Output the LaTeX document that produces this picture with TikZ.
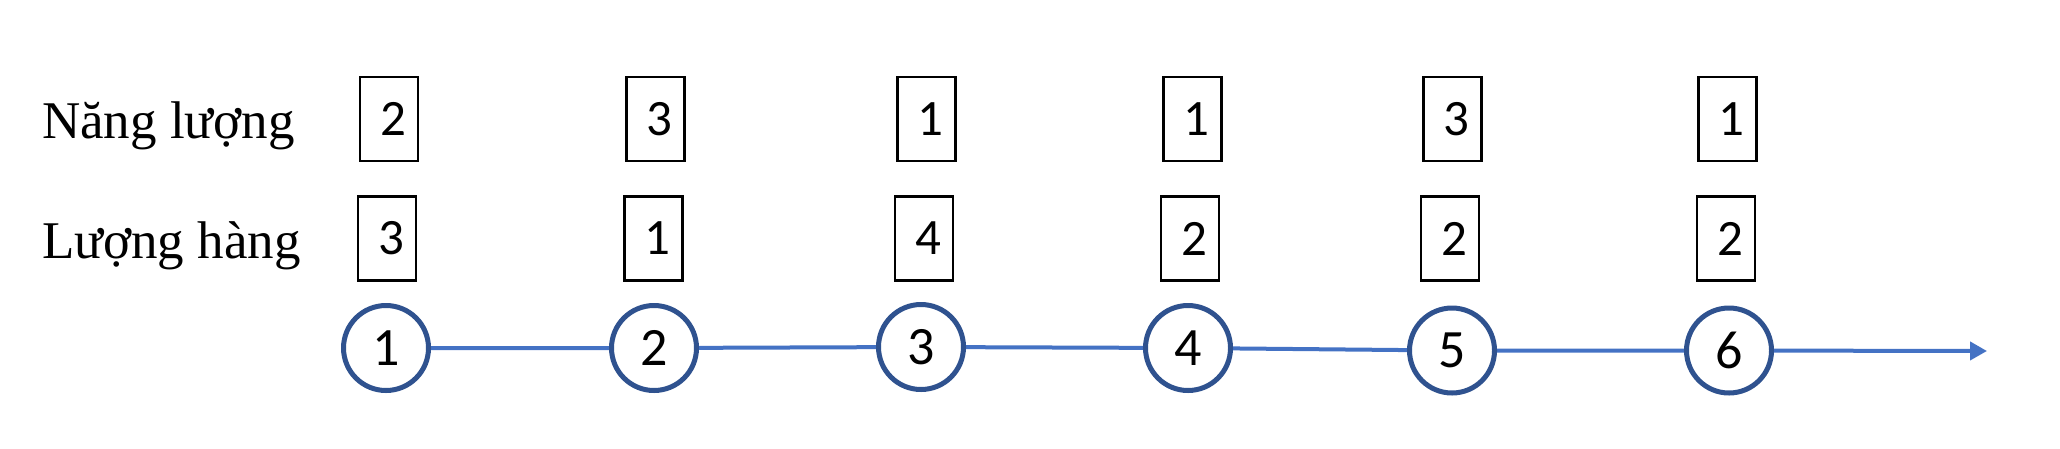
\documentclass[tikz,border=0pt]{standalone}
\usepackage{fontspec}
\setmainfont{Liberation Serif}
\newfontfamily\digfont{Carlito}
\usetikzlibrary{arrows.meta}
\definecolor{ringblue}{HTML}{2F528F}
\definecolor{lineblue}{HTML}{4472C4}
\tikzset{
  rowlabel/.style={anchor=base west, inner sep=0pt, font=\fontsize{53}{60}\selectfont},
  valbox/.style={draw=black, line width=2.2pt, minimum width=58pt, minimum height=84pt, inner sep=0pt, font=\digfont\fontsize{51}{56}\selectfont},
  stage/.style={circle, draw=ringblue, line width=5pt, fill=white, minimum size=85pt, inner sep=0pt, font=\digfont\fontsize{54}{60}\selectfont},
  link/.style={draw=lineblue, line width=4pt},
}
\begin{document}
\begin{tikzpicture}[x=1pt,y=-1pt]
\useasboundingbox (0,0) rectangle (2060,448);
\node[rowlabel] (l1) at (42,138) {Năng lượng};
\node[rowlabel] (l2) at (42,258) {Lượng hàng};
\node[valbox] (t1) at (389,119) {\kern8pt2};
\node[valbox] (t2) at (655.5,119) {\kern8pt3};
\node[valbox] (t3) at (926.5,119) {\kern8pt1};
\node[valbox] (t4) at (1192.5,119) {\kern8pt1};
\node[valbox] (t5) at (1452.5,119) {\kern8pt3};
\node[valbox] (t6) at (1727.5,119) {\kern8pt1};
\node[valbox] (b1) at (387,238.5) {\kern8pt3};
\node[valbox] (b2) at (653.5,238.5) {\kern8pt1};
\node[valbox] (b3) at (924,238.5) {\kern8pt4};
\node[valbox] (b4) at (1190,238.5) {\kern8pt2};
\node[valbox] (b5) at (1450,238.5) {\kern8pt2};
\node[valbox] (b6) at (1726,238.5) {\kern8pt2};
\coordinate (end) at (1987,351);
\draw[link] (386,348) -- (654,348) -- (921,347) -- (1188,348) -- (1452,350.5) -- (1729,350.5);
\node[stage] (c1) at (386,348) {1};
\node[stage] (c2) at (654,348) {2};
\node[stage] (c3) at (921,347) {3};
\node[stage] (c4) at (1188,348) {4};
\node[stage] (c5) at (1452,350.5) {5};
\node[stage] (c6) at (1729,350.5) {6};
\draw[link, -{Triangle[length=17pt,width=18pt]}] (c6) -- (end);
\end{tikzpicture}
\end{document}
